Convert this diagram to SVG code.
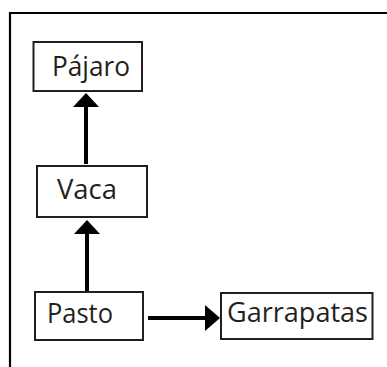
<svg xmlns="http://www.w3.org/2000/svg" width="387" height="367" viewBox="0 0 387 367">
<style>
.box{fill:#fff;stroke:#231f20;stroke-width:2}
.lbl{font-family:"Open Sans","Noto Sans","Liberation Sans",sans-serif;font-size:28px;fill:#231f20;text-anchor:middle}
.edge{stroke:#000;stroke-width:4;fill:none}
.head{fill:#000}
</style>
<rect width="387" height="367" fill="#fff"/>
<path d="M10 367 V13 H387" fill="none" stroke="#000" stroke-width="2.2"/>
<g id="connectors">
<line class="edge" x1="86" y1="164" x2="86" y2="106"/>
<polygon class="head" points="86,93 73,107 99,107"/>
<line class="edge" x1="87" y1="292" x2="87" y2="233"/>
<polygon class="head" points="87,220 74,234 100,234"/>
<line class="edge" x1="148" y1="318" x2="207" y2="318"/>
<polygon class="head" points="220,318 205,305 205,331"/>
</g>
<g id="pajaro">
<rect class="box" x="33.5" y="42" width="108.5" height="49"/>
<text class="lbl" x="91" y="76" textLength="78" lengthAdjust="spacingAndGlyphs">Pájaro</text>
</g>
<g id="vaca">
<rect class="box" x="37" y="166" width="110" height="51"/>
<text class="lbl" x="87" y="199" textLength="60" lengthAdjust="spacingAndGlyphs">Vaca</text>
</g>
<g id="pasto">
<rect class="box" x="35" y="292" width="108" height="48"/>
<text class="lbl" x="80" y="323" textLength="66" lengthAdjust="spacingAndGlyphs">Pasto</text>
</g>
<g id="garrapatas">
<rect class="box" x="221" y="293" width="151.5" height="46"/>
<text class="lbl" x="297.5" y="322" textLength="141" lengthAdjust="spacingAndGlyphs">Garrapatas</text>
</g>
</svg>
